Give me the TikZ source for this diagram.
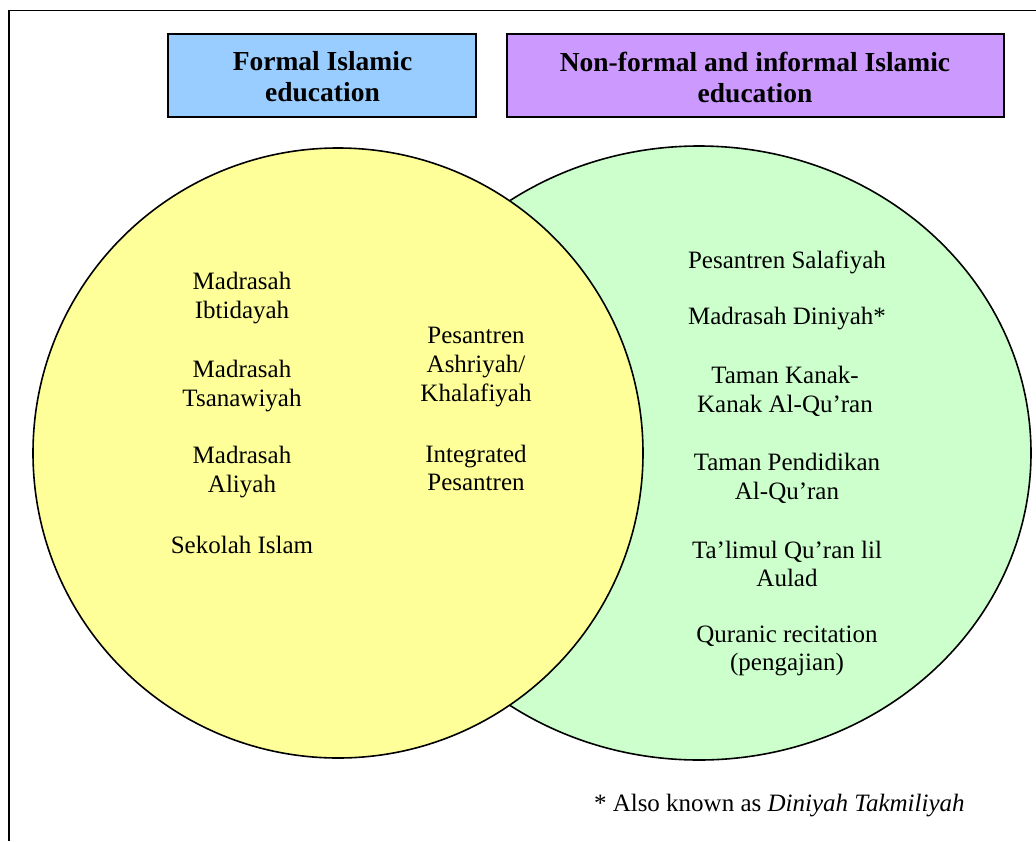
\documentclass[tikz,border=0pt]{standalone}
\usepackage{fontspec}
\setmainfont{Liberation Serif}
\definecolor{boxblue}{HTML}{99CCFF}
\definecolor{boxpurple}{HTML}{CC99FF}
\definecolor{venyellow}{HTML}{FFFF99}
\definecolor{vengreen}{HTML}{CCFFCC}
\begin{document}
\begin{tikzpicture}[x=1pt,y=-1pt,
  every node/.style={inner sep=0pt, outer sep=0pt},
  txt/.style={align=center, font=\fontsize{25}{28.7}\selectfont},
  headtxt/.style={align=center, font=\fontsize{27.5}{31}\bfseries\selectfont},
  headbox/.style={draw=black, line width=1.6pt, minimum height=83pt},
  venn/.style={draw=black, line width=1.6pt}]
\useasboundingbox (0,0) rectangle (1036,841);
\draw[line width=1.6pt] (9,841) -- (9,10.5) -- (1040,10.5);
% headings
\node[headbox, fill=boxblue, minimum width=308pt] (formal) at (322,75.5) {};
\node[headtxt] (formaltxt) at (322.5,77) {Formal Islamic\\education};
\node[headbox, fill=boxpurple, minimum width=497pt] (nonformal) at (755.5,75.5) {};
\node[headtxt] (nonformaltxt) at (755,77) {Non-formal and informal Islamic\\education};
% venn
\draw[venn, fill=vengreen] (699,453) ellipse [x radius=332, y radius=307];
\draw[venn, fill=venyellow] (338,453) circle [radius=305];
% left column
\node[txt] (mi) at (242,298) {Madrasah\\Ibtidayah};
\node[txt] (mts) at (242,386) {Madrasah\\Tsanawiyah};
\node[txt] (ma) at (242,472) {Madrasah\\Aliyah};
\node[txt] (si) at (242,545) {Sekolah Islam};
% middle
\node[txt] (pa) at (476,367) {Pesantren\\Ashriyah/\\Khalafiyah};
\node[txt] (ip) at (476,468) {Integrated\\Pesantren};
% right
\node[txt] (ps) at (787,262) {Pesantren Salafiyah};
\node[txt] (md) at (787,319) {Madrasah Diniyah*};
\node[txt] (tkk) at (785,391) {Taman Kanak-\\Kanak Al-Qu’ran};
\node[txt] (tpa) at (787,478) {Taman Pendidikan\\Al-Qu’ran};
\node[txt] (tql) at (787,564) {Ta’limul Qu’ran lil\\Aulad};
\node[txt] (qr) at (787,651) {Quranic recitation\\(pengajian)};
% footnote
\node[txt, anchor=west] (note) at (594,806) {* Also known as \textit{Diniyah Takmiliyah}};
\end{tikzpicture}
\end{document}
